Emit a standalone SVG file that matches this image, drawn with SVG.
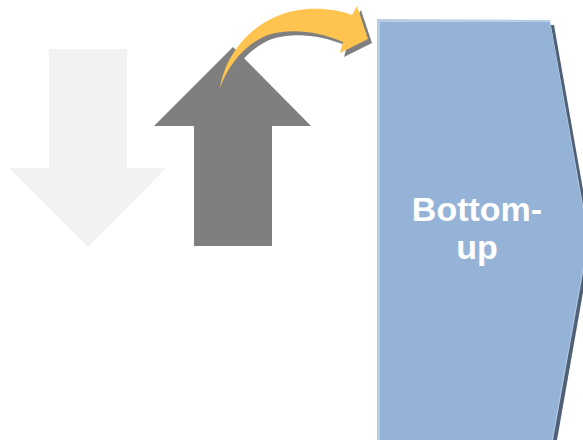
<svg xmlns="http://www.w3.org/2000/svg" width="583" height="440" viewBox="0 0 583 440">
<style>
.lbl{font-family:"Liberation Sans",Arial,sans-serif;font-weight:bold;font-size:34px;fill:#ffffff;text-anchor:middle}
</style>
<rect width="583" height="440" fill="#ffffff"/>
<g id="down-arrow">
<polygon points="49,49 127,49 127,168 166,168 88,247 9,168 49,168" fill="#f2f2f2"/>
</g>
<g id="up-arrow">
<polygon points="233,47 311,126 272,126 272,246 194,246 194,126 154,126" fill="#7f7f7f"/>
</g>
<g id="bottom-up">
<polygon points="381,23 554,25 592,241 557,440 381,440" fill="#4f6077"/>
<polygon points="377,19 550,20 589,239 553,440 377,440" fill="#b9cde5"/>
<polygon points="380,22 550,22 588,239 552,440 380,440" fill="#95b3d7"/>
<text class="lbl" x="477" y="221">Bottom-</text>
<text class="lbl" x="477" y="259">up</text>
</g>
<g id="connectors">
<path transform="translate(4,4)" d="M220,88 C224,60 245,30 275,17 C300,6 330,7 352,15 L357,6 L368,39 L340,53 L343,42 C318,31 290,28 268,35 C245,44 228,65 220,88 Z" fill="#7f7f7f"/>
<path d="M220,88 C224,60 245,30 275,17 C300,6 330,7 352,15 L357,6 L368,39 L340,53 L343,42 C318,31 290,28 268,35 C245,44 228,65 220,88 Z" fill="#fec44f"/>
</g>
</svg>
